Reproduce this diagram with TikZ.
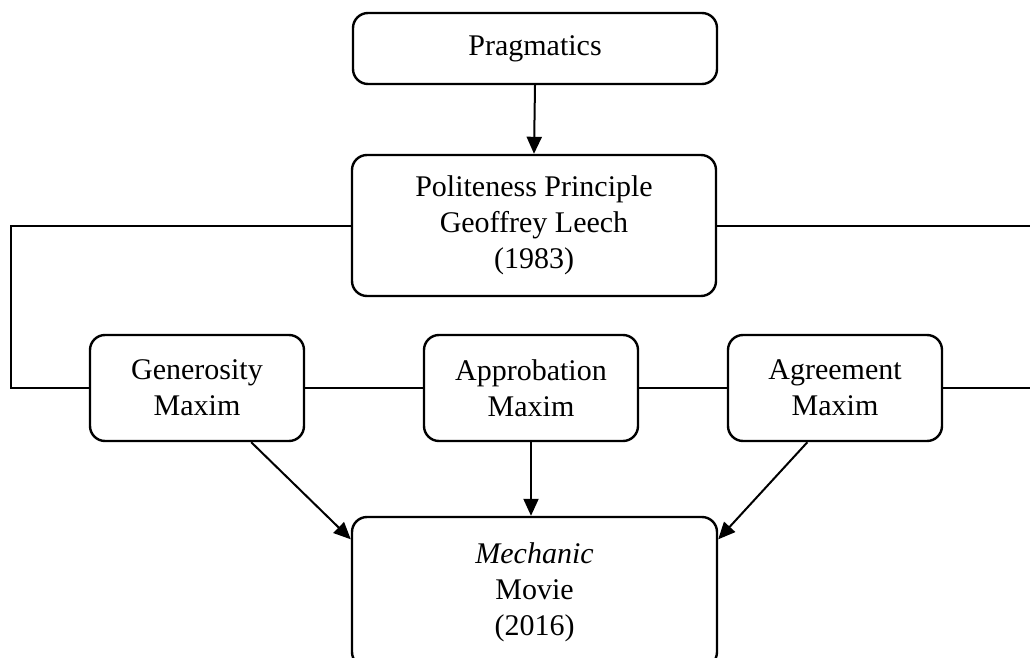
\documentclass[tikz,border=0pt]{standalone}
\usepackage{fontspec}
\setmainfont{Liberation Serif}
\usetikzlibrary{arrows.meta, positioning}

\begin{document}
\begin{tikzpicture}[
			x=1pt, y=-1pt,
			box/.style={draw, line width=2.4pt, rounded corners=15pt, align=center, inner sep=0pt, font=\fontsize{30}{36}\selectfont},
			maxim/.style={box, minimum width=214pt, minimum height=106pt},
			link/.style={line width=2pt},
			arrow/.style={link, -{Triangle[length=17pt, width=15pt]}}
			]
			\useasboundingbox (0,0) rectangle (1030,658);
			\node[box, minimum width=364pt, minimum height=71pt] (pragmatics) at (535,48.5) {Pragmatics};
			\node[box, minimum width=364pt, minimum height=141pt] (politeness) at (534,225.5) {Politeness Principle\\Geoffrey Leech\\(1983)};
			\node[maxim] (generosity) at (197,388) {Generosity\\Maxim};
			\node[maxim] (approbation) at (531,388) {Approbation\\Maxim};
			\node[maxim] (agreement) at (835,388) {Agreement\\Maxim};
			\node[box, minimum width=365pt, minimum height=150pt] (mechanic) at (534.5,592) {\textit{Mechanic}\\Movie\\(2016)};
			\coordinate (leftedge) at (11,388);
			\coordinate (rightedge) at (1036,388);
			\draw[arrow] (pragmatics.south) -- (politeness.north);
			\draw[link] (politeness.west) -| (leftedge) -- (generosity.west);
			\draw[link] (politeness.east) -| (rightedge) -- (agreement.east);
			\draw[link] (generosity.east) -- (approbation.west);
			\draw[link] (approbation.east) -- (agreement.west);
			\draw[arrow] (generosity.-45) -- (mechanic.164);
			\draw[arrow] (approbation.south) -- (approbation.south |- mechanic.north);
			\draw[arrow] (agreement.243) -- (mechanic.16);
		\end{tikzpicture}
\end{document}
